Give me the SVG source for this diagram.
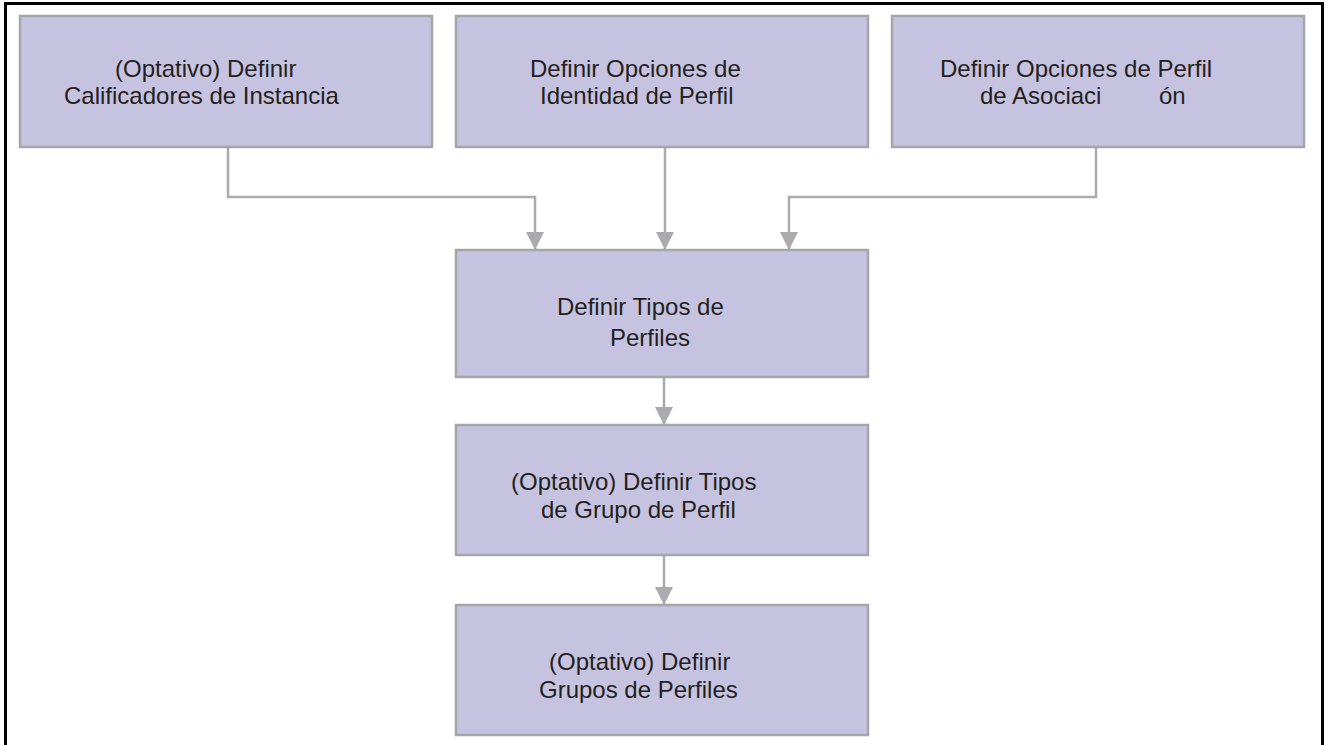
<svg xmlns="http://www.w3.org/2000/svg" width="1329" height="745" viewBox="0 0 1329 745">
  <style>
    .frame { fill: none; stroke: #000; stroke-width: 3; }
    .box { fill: #c6c3e0; stroke: #a6a6aa; stroke-width: 2.5; }
    .label { font-family: "Liberation Sans", Arial, sans-serif; font-size: 24px; fill: #231f20; }
    .wire { fill: none; stroke: #ababaf; stroke-width: 2.5; marker-end: url(#arrow); }
  </style>
  <defs>
    <marker id="arrow" viewBox="0 0 18 18" refX="18" refY="9" markerWidth="18" markerHeight="18" markerUnits="userSpaceOnUse" orient="auto">
      <path d="M0,0 L18,9 L0,18 z" fill="#ababaf"/>
    </marker>
  </defs>

  <rect class="frame" x="5.5" y="3.5" width="1317" height="800"/>

  <g id="connectors">
    <polyline class="wire" points="228,148 228,197 535,197 535,250"/>
    <polyline class="wire" points="665,148 665,250"/>
    <polyline class="wire" points="1096,148 1096,197 789,197 789,250"/>
    <polyline class="wire" points="664,378 664,425"/>
    <polyline class="wire" points="664,556 664,605"/>
  </g>

  <g id="node-calificadores">
    <rect class="box" x="20" y="16" width="412" height="131"/>
    <text class="label" x="115" y="77">(Optativo) Definir</text>
    <text class="label" x="64" y="104">Calificadores de Instancia</text>
  </g>

  <g id="node-identidad">
    <rect class="box" x="456" y="16" width="412" height="131"/>
    <text class="label" x="530" y="77">Definir Opciones de</text>
    <text class="label" x="540" y="104">Identidad de Perfil</text>
  </g>

  <g id="node-asociacion">
    <rect class="box" x="892" y="16" width="412" height="131"/>
    <text class="label" x="940" y="77">Definir Opciones de Perfil</text>
    <text class="label" x="980" y="104">de Asociaci</text>
    <text class="label" x="1159" y="104">ón</text>
  </g>

  <g id="node-tipos-perfiles">
    <rect class="box" x="456" y="250" width="412" height="127"/>
    <text class="label" x="557" y="315">Definir Tipos de</text>
    <text class="label" x="610" y="346">Perfiles</text>
  </g>

  <g id="node-tipos-grupo">
    <rect class="box" x="456" y="425" width="412" height="130"/>
    <text class="label" x="511" y="490">(Optativo) Definir Tipos</text>
    <text class="label" x="541" y="518">de Grupo de Perfil</text>
  </g>

  <g id="node-grupos">
    <rect class="box" x="456" y="605" width="412" height="130"/>
    <text class="label" x="549" y="670">(Optativo) Definir</text>
    <text class="label" x="539" y="698">Grupos de Perfiles</text>
  </g>
</svg>
